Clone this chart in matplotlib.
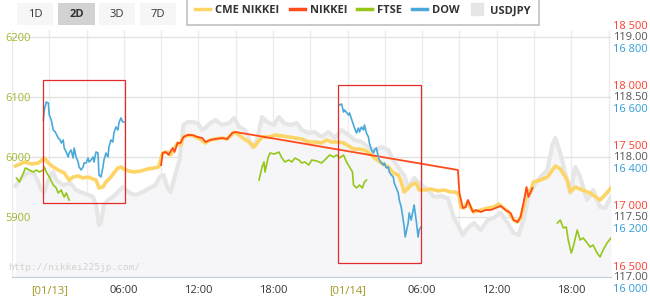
import numpy as np
import matplotlib
matplotlib.use("Agg")
import matplotlib.pyplot as plt
import matplotlib.transforms as mtransforms
from matplotlib.lines import Line2D
from matplotlib.patches import Rectangle
from matplotlib.ticker import FuncFormatter

plt.rcParams['font.family'] = ['Open Sans', 'DejaVu Sans']
nan = np.nan

# ---------------- data (hours from 01/13 00:00 JST) ----------------
cme_time = [-2.72, -2.0, -1.44, -0.88, -0.4, -0.08, 0.32, 0.72, 1.2, 1.6,
            1.92, 2.32, 2.72, 3.12, 3.52, 3.76, 4.0, 4.32, 4.56, 4.96,
            5.2, 5.52, 5.76, 6.0, 6.4, 6.8, 7.36, 7.92, 8.4, 8.8,
            9.12, 9.52, 9.76, 10.0, 10.32, 10.56, 10.8, 11.2, 11.6, 12.0,
            12.56, 12.96, 13.36, 13.92, 14.32, 14.88, 15.28, 15.68, 16.08, 16.48,
            16.72, 17.12, 17.68, 18.16, 18.72, 19.28, 19.76, 20.32, 20.88, 21.36,
            21.92, 22.32, 22.72, 23.28, 23.68, 24.08, 24.48, 24.88, 25.36, 25.76,
            26.16, 26.72, 27.28, 27.68, 28.08, 28.32, 28.56, 28.88, 29.12, 29.52,
            29.76, 30.16, 30.72, 31.28, 31.76, 32.32, 32.72, 32.96, 33.12, 33.36,
            33.68, 33.92, 34.16, 34.72, 35.28, 35.76, 36.16, 36.56, 36.96, 37.36,
            37.68, 37.92, 38.16, 38.48, 38.72, 38.96, 39.52, 40.08, 40.72, 41.12,
            41.68, 41.92, 42.32, 42.88, 43.52, 44.32, 44.72, 45.2]
cme_value = [17425, 17458, 17442, 17450, 17492, 17450, 17417, 17392, 17367, 17308,
             17333, 17342, 17325, 17333, 17317, 17308, 17242, 17250, 17292, 17333,
             17367, 17408, 17417, 17400, 17383, 17375, 17383, 17400, 17408, 17417,
             17533, 17542, 17517, 17558, 17617, 17600, 17667, 17683, 17675, 17658,
             17617, 17642, 17650, 17658, 17650, 17708, 17683, 17650, 17625, 17583,
             17617, 17667, 17667, 17683, 17675, 17667, 17658, 17650, 17625, 17625,
             17617, 17642, 17625, 17625, 17617, 17592, 17567, 17567, 17558, 17533,
             17492, 17450, 17417, 17367, 17350, 17292, 17208, 17242, 17267, 17283,
             17225, 17225, 17233, 17217, 17225, 17208, 17208, 17183, 17083, 17075,
             17125, 17075, 17042, 17058, 17075, 17083, 17108, 17075, 17042, 16975,
             16958, 16992, 17083, 17225, 17208, 17292, 17308, 17333, 17425, 17400,
             17308, 17208, 17250, 17225, 17200, 17142, 17183, 17242]

nikkei_time = [9.0, 9.12, 9.36, 9.6, 9.92, 10.08, 10.32, 10.56, 10.8, 11.12,
               11.52, 11.92, 12.32, 12.56, 12.96, 13.36, 13.92, 14.32, 14.72, 15.0,
               32.88, 33.0, 33.28, 33.52, 33.68, 33.76, 34.08, 34.32, 34.72, 35.12,
               35.52, 35.92, 36.32, 36.72, 37.12, 37.36, 37.68, 37.92, 38.16, 38.4,
               38.56, 38.88]
nikkei_value = [17433, 17533, 17542, 17517, 17575, 17542, 17617, 17617, 17667, 17683,
                17683, 17667, 17658, 17625, 17642, 17650, 17658, 17650, 17700, 17708,
                17392, 17200, 17075, 17083, 17142, 17125, 17042, 17058, 17042, 17058,
                17058, 17075, 17092, 17058, 17033, 16975, 16958, 17000, 17117, 17250,
                17167, 17242]

ftse_time = [-2.64, -2.4, -2.08, -1.92, -1.6, -1.28, -1.04, -0.8, -0.48, -0.4,
             -0.24, 0.0, 0.32, 0.56, 0.72, 0.96, 1.12, 1.2, 1.36, 1.6,
             nan,
             16.88, 17.12, 17.28, 17.36, 17.6, 17.76, 18.08, 18.32, 18.48, 18.72,
             18.96, 19.28, 19.52, 19.76, 20.08, 20.32, 20.56, 20.88, 21.12, 21.52,
             21.92, 22.32, 22.56, 22.88, 23.12, 23.36, 23.68, 23.92, 24.16, 24.4,
             24.48, 24.72, 24.96, 25.2, 25.36, 25.52,
             nan,
             40.88, 41.12, 41.36, 41.6, 41.76, 42.0, 42.16, 42.48, 42.72, 42.96,
             43.28, 43.52, 43.76, 44.08, 44.32, 44.56, 44.88, 45.2]
ftse_value = [5965, 5958.3, 5973.3, 5981.7, 5978.3, 5975, 5978.3, 5975, 5978.3, 5983.3,
              5975, 5966.7, 5953.3, 5948.3, 5940, 5945, 5936.7, 5933.3, 5940, 5928.3,
              nan,
              5961.7, 5983.3, 5991.7, 5975, 5998.3, 6006.7, 6005, 6006.7, 6008.3, 5998.3,
              5991.7, 5995, 5991.7, 5998.3, 5995, 5990, 5991.7, 5986.7, 5995, 5993.3,
              5990, 5998.3, 6003.3, 6000, 6003.3, 5998.3, 6003.3, 5991.7, 5983.3, 5975,
              5953.3, 5948.3, 5953.3, 5948.3, 5958.3, 5961.7,
              nan,
              5890, 5895, 5881.7, 5883.3, 5861.7, 5840, 5850, 5878.3, 5861.7, 5865,
              5856.7, 5850, 5853.3, 5840, 5833.3, 5845, 5856.7, 5865]

dow_time = [-0.48, -0.4, -0.24, -0.08, 0.0, 0.16, 0.32, 0.48, 0.72, 0.88,
            0.96, 1.12, 1.2, 1.36, 1.52, 1.6, 1.76, 1.92, 2.0, 2.16,
            2.32, 2.4, 2.56, 2.72, 2.8, 2.96, 3.12, 3.2, 3.36, 3.52,
            3.6, 3.76, 3.92, 4.0, 4.16, 4.32, 4.4, 4.56, 4.72, 4.8,
            4.96, 5.12, 5.2, 5.36, 5.52, 5.6, 5.76, 5.92, 6.0,
            nan,
            23.36, 23.52, 23.68, 23.76, 24.08, 24.16, 24.48, 24.56, 24.72, 24.88,
            24.96, 25.12, 25.28, 25.36, 25.52, 25.68, 25.76, 25.92, 26.08, 26.16,
            26.32, 26.48, 26.56, 26.72, 26.88, 26.96, 27.12, 27.28, 27.36, 27.52,
            27.68, 27.76, 27.92, 28.08, 28.16, 28.32, 28.48, 28.56, 28.64, 28.88,
            28.96, 29.12, 29.28, 29.36, 29.52, 29.68, 29.76, 29.92]
dow_value = [16523.3, 16556.7, 16583.3, 16580, 16540, 16523.3, 16490, 16483.3, 16463.3, 16456.7,
             16446.7, 16456.7, 16430, 16416.7, 16400, 16413.3, 16423.3, 16396.7, 16430, 16400,
             16383.3, 16366.7, 16356.7, 16366.7, 16380, 16380, 16396.7, 16383.3, 16390, 16400,
             16383.3, 16416.7, 16413.3, 16340, 16333.3, 16366.7, 16390, 16413.3, 16400, 16433.3,
             16456.7, 16450, 16480, 16500, 16490, 16513.3, 16530, 16516.7, 16516.7,
             nan,
             16573.3, 16576.7, 16550, 16556.7, 16540, 16546.7, 16506.7, 16496.7, 16480, 16496.7,
             16483.3, 16500, 16490, 16506.7, 16480, 16466.7, 16446.7, 16423.3, 16413.3, 16423.3,
             16430, 16400, 16390, 16380, 16373.3, 16380, 16363.3, 16366.7, 16350, 16340,
             16333.3, 16313.3, 16296.7, 16280, 16256.7, 16233.3, 16190, 16166.7, 16133.3, 16180,
             16213.3, 16190, 16223.3, 16240, 16190, 16133.3, 16156.7, 16166.7]

usdjpy_time = [-2.72, -2.4, -2.0, -1.6, -1.2, -0.88, -0.64, -0.4, -0.08, 0.32,
               0.56, 1.12, 1.68, 2.16, 2.72, 3.2, 3.52, 3.76, 4.0, 4.16,
               4.4, 4.72, 5.12, 5.68, 5.92, 6.48, 6.96, 7.52, 8.08, 8.56,
               8.88, 9.2, 9.52, 9.76, 10.08, 10.48, 10.8, 11.12, 11.52, 11.92,
               12.32, 12.64, 12.96, 13.36, 13.92, 14.48, 14.88, 15.28, 15.76, 16.32,
               16.72, 17.12, 17.52, 18.08, 18.48, 18.88, 19.36, 19.92, 20.32, 20.88,
               21.36, 21.92, 22.48, 22.96, 23.52, 24.08, 24.56, 25.12, 25.68, 26.16,
               26.72, 27.28, 27.68, 28.08, 28.32, 28.56, 28.88, 29.36, 29.92, 30.48,
               30.96, 31.52, 32.08, 32.56, 32.96, 33.28, 33.68, 34.16, 34.72, 35.28,
               35.76, 36.32, 36.88, 37.36, 37.76, 38.16, 38.56, 38.96, 39.52, 40.08,
               40.48, 40.72, 41.12, 41.52, 41.92, 42.32, 42.72, 43.28, 43.76, 44.32,
               44.72, 45.2]
usdjpy_value = [117.758, 117.808, 117.850, 117.875, 117.858, 117.792, 117.725, 117.708, 117.808, 117.875,
                117.808, 117.767, 117.783, 117.725, 117.700, 117.683, 117.667, 117.600, 117.433, 117.458,
                117.600, 117.642, 117.667, 117.725, 117.750, 117.700, 117.683, 117.708, 117.742, 117.767,
                117.833, 117.850, 117.742, 117.708, 117.833, 117.975, 118.267, 118.292, 118.292, 118.283,
                118.225, 118.250, 118.283, 118.308, 118.267, 118.283, 118.325, 118.250, 118.225, 118.083,
                118.142, 118.333, 118.292, 118.267, 118.333, 118.283, 118.267, 118.283, 118.225, 118.200,
                118.208, 118.167, 118.208, 118.158, 118.225, 118.183, 118.142, 118.125, 118.083, 118.058,
                118.083, 118.058, 117.975, 117.917, 117.875, 117.850, 117.742, 117.825, 117.767, 117.725,
                117.667, 117.675, 117.658, 117.492, 117.417, 117.350, 117.408, 117.450, 117.392, 117.475,
                117.492, 117.533, 117.450, 117.367, 117.350, 117.475, 117.667, 117.750, 117.833, 117.892,
                118.100, 118.158, 118.033, 117.867, 117.700, 117.917, 117.833, 117.642, 117.725, 117.583,
                117.575, 117.667]

x_ticks = [0, 6, 12, 18, 24, 30, 36, 42]
x_labels = ['[01/13]', '06:00', '12:00', '18:00', '[01/14]', '06:00', '12:00', '18:00']
ftse_ticks = [5900, 6000, 6100, 6200]
nikkei_ticks = [16500, 17000, 17500, 18000, 18500]
usdjpy_ticks = [117.0, 117.5, 118.0, 118.5, 119.0]
dow_ticks = [16000, 16200, 16400, 16600, 16800]
legend_labels = ['CME NIKKEI', 'NIKKEI', 'FTSE', 'DOW', 'USDJPY']
range_buttons = ['1D', '2D', '3D', '7D']
# highlighted areas: (time from, time to, FTSE low, FTSE high)
highlight_boxes = [(-0.48, 6.08, 5923.3, 6128.3), (23.2, 29.92, 5823.3, 6120.0)]

# ---------------- colours ----------------
C_CME, C_NK, C_FTSE, C_DOW, C_USD = '#fdd567', '#ff4a1a', '#94c71a', '#4aa9d9', '#e6e6e6'

W, H = 650, 304
fig = plt.figure(figsize=(W / 100, H / 100), dpi=100)
pl, pr, pb, pt = 12, 611, 277, 30
host = fig.add_axes([pl / W, 1 - pb / H, (pr - pl) / W, (pb - pt) / H])
ax_nk = host.twinx()
ax_dow = host.twinx()
ax_ftse = host.twinx()

host.set_xlim(-2.72, 45.2)
host.set_ylim(117.0, 119.0583)
ax_nk.set_ylim(16500, 18558.3)
ax_dow.set_ylim(16000, 16823.3)
ax_ftse.set_ylim(5800, 6211.67)

for a in (host, ax_nk, ax_dow, ax_ftse):
    for s in a.spines.values():
        s.set_visible(False)
for a in (ax_nk, ax_dow, ax_ftse):
    a.patch.set_visible(False)
host.spines['bottom'].set_visible(True)
host.spines['bottom'].set_color('#c0d0e0')

# grid
host.set_xticks(x_ticks)
host.set_xticklabels(x_labels)
host.set_xticks(np.arange(-3, 46, 3), minor=True)
host.grid(True, which='both', axis='x', color='#ececec', lw=1)
host.grid(True, axis='y', color='#e2e2e2', lw=1)
host.set_axisbelow(True)
host.tick_params(axis='x', which='both', length=0, pad=6, labelsize=8)
for lbl in host.get_xticklabels():
    lbl.set_color('#a0961e' if lbl.get_text().startswith('[') else '#333333')

# series
host.fill_between(usdjpy_time, usdjpy_value, 117.0, color='#f6f6f8', lw=0, zorder=1)
host.plot(usdjpy_time, usdjpy_value, color=C_USD, lw=3, zorder=2)
ax_nk.plot(cme_time, cme_value, color=C_CME, lw=2.6, solid_joinstyle='round')
ax_nk.plot(nikkei_time, nikkei_value, color=C_NK, lw=1.3)
ax_dow.plot(dow_time, dow_value, color=C_DOW, lw=1.2)
ax_ftse.plot(ftse_time, ftse_value, color=C_FTSE, lw=1.2)
for t0, t1, v0, v1 in highlight_boxes:
    ax_ftse.add_patch(Rectangle((t0, v0), t1 - t0, v1 - v0, fill=False,
                                ec='#e52a2a', lw=0.9, zorder=10))

# y axes
space_fmt = FuncFormatter(lambda v, p: f"{int(round(v)):,}".replace(',', ' '))
host.yaxis.tick_right()
host.set_yticks(usdjpy_ticks)
host.yaxis.set_major_formatter(FuncFormatter(lambda v, p: f"{v:.2f}"))
host.tick_params(axis='y', length=0, pad=1.4, labelsize=8, labelcolor='#555555')
ax_nk.set_yticks(nikkei_ticks)
ax_nk.yaxis.set_major_formatter(space_fmt)
ax_nk.tick_params(axis='y', length=0, pad=1.4, labelsize=8, labelcolor='#ff3b2c')
ax_dow.set_yticks(dow_ticks)
ax_dow.yaxis.set_major_formatter(space_fmt)
ax_dow.tick_params(axis='y', length=0, pad=1.4, labelsize=8, labelcolor='#2f9ed6')
ax_ftse.yaxis.tick_left()
ax_ftse.set_yticks(ftse_ticks)
ax_ftse.tick_params(axis='y', length=0, pad=5, labelsize=8, labelcolor='#9dba2c')
for lbl in ax_ftse.get_yticklabels():
    lbl.set_ha('left')


def shift(ax, dy_px):
    off = mtransforms.ScaledTranslation(0, dy_px / 100, fig.dpi_scale_trans)
    for t in ax.yaxis.get_major_ticks():
        t.label1.set_transform(t.label1.get_transform() + off)
        t.label2.set_transform(t.label2.get_transform() + off)


shift(ax_nk, 11.5)
shift(host, 0.5)
shift(ax_dow, -11.5)

# legend
handles = [Line2D([], [], color=C_CME, lw=2.5),
           Line2D([], [], color=C_NK, lw=2.5),
           Line2D([], [], color=C_FTSE, lw=2.5),
           Line2D([], [], color=C_DOW, lw=2.5),
           Line2D([], [], marker='s', ls='none', markersize=9,
                  markerfacecolor='#e6e6e6', markeredgecolor='#e6e6e6')]
leg = fig.legend(handles, legend_labels, loc='upper left', bbox_to_anchor=(187 / W, 1 + 3 / H),
                 ncol=5, frameon=True, fancybox=False, borderaxespad=0,
                 prop={'family': 'Open Sans', 'weight': 'bold', 'size': 8},
                 handlelength=1.35, handletextpad=0.45, columnspacing=0.9,
                 borderpad=0.75, labelcolor='#333333')
leg.get_frame().set_edgecolor('#b0b0b0')
leg.get_frame().set_linewidth(1.2)

# range buttons
btn_x = [(17, 53), (58, 95), (99, 135), (140, 176)]
for lab, (x0, x1) in zip(range_buttons, btn_x):
    sel = lab == '2D'
    fig.add_artist(Rectangle((x0 / W, 1 - 25 / H), (x1 - x0) / W, 22 / H,
                             transform=fig.transFigure,
                             fc='#d2d2d2' if sel else '#f6f6f6', ec='none'))
    fig.text((x0 + x1) / 2 / W, 1 - 14.5 / H, lab, ha='center', va='center',
             fontsize=8, color='#333333', weight='bold' if sel else 'normal')

fig.text(8 / W, 1 - 268 / H, 'http://nikkei225jp.com/', family='DejaVu Sans Mono',
         fontsize=6.8, color='#d2d2d2', va='center')

fig.savefig('out.png', dpi=100)
